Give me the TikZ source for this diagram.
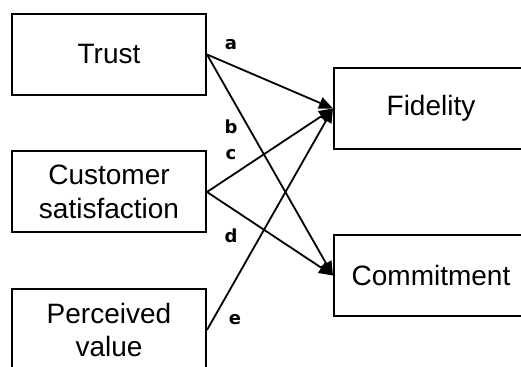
\documentclass[tikz,border=0pt]{standalone}
\usepackage{fontspec}
\setmainfont{Liberation Sans}
\newfontfamily\labelfont{DejaVu Sans}
\usetikzlibrary{arrows.meta}
\begin{document}
\begin{tikzpicture}[x=0.5pt, y=-0.5pt, every node/.style={font=\fontsize{14}{17}\selectfont},
  varbox/.style={draw, line width=1pt, minimum width=97pt, minimum height=40.5pt, align=center, inner sep=0pt},
  path/.style={-{Triangle[length=7pt, width=6pt]}, line width=0.9pt},
  coef/.style={font=\labelfont\bfseries\fontsize{9}{10}\selectfont}]
  \useasboundingbox[clip] (0,0) rectangle (521,367);
  \node[varbox] (trust) at (109,54.5) {Trust};
  \node[varbox] (sat) at (109,192) {Customer\\satisfaction};
  \node[varbox] (val) at (109,330) {Perceived\\value};
  \node[varbox] (fid) at (431,108.5) {Fidelity};
  \node[varbox] (com) at (431,275.5) {Commitment};
  \draw[path] (trust.east) -- (fid.west);
  \draw[path] (trust.east) -- (com.west);
  \draw[path] (sat.east) -- (fid.west);
  \draw[path] (sat.east) -- (com.west);
  \draw[path] (val.east) -- (fid.west);
  \node[coef] (la) at (231,45) {a};
  \node[coef] (lb) at (231,127) {b};
  \node[coef] (lc) at (231,155) {c};
  \node[coef] (ld) at (231,236) {d};
  \node[coef] (le) at (235,320) {e};
\end{tikzpicture}
\end{document}
